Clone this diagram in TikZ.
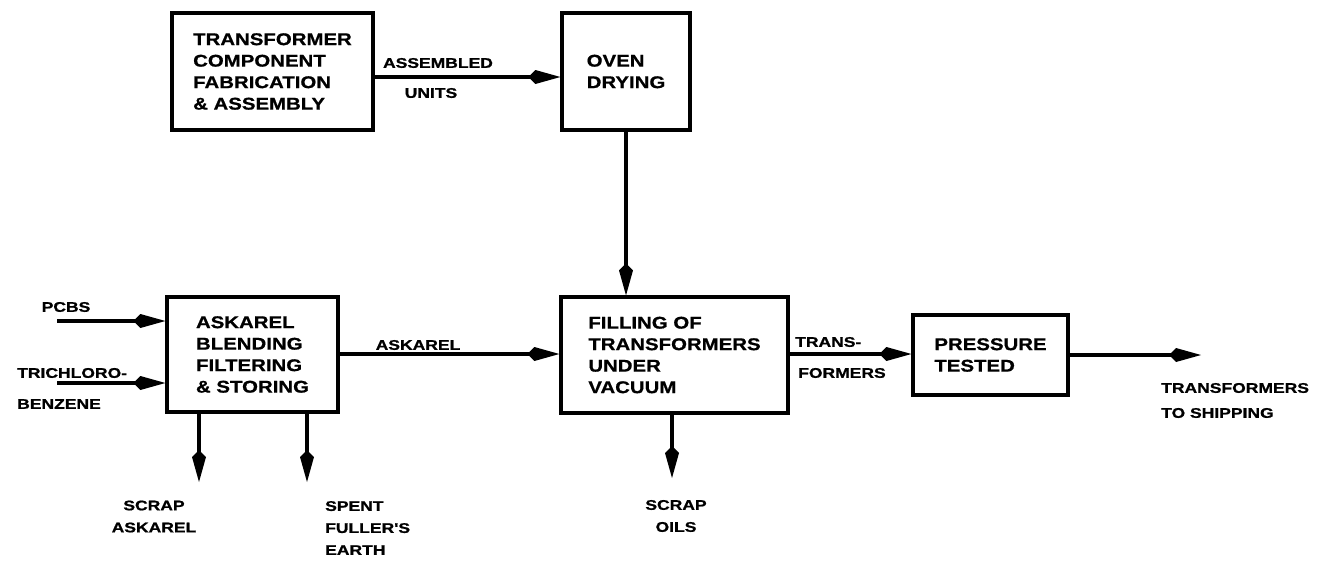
\documentclass[tikz,border=0pt]{standalone}
\usepackage{fontspec}
\usetikzlibrary{arrows.meta}
\newfontfamily\boxlett[FakeStretch=1.2,FakeBold=0.8]{Liberation Sans Bold}
\newfontfamily\lablett[FakeStretch=1.25,FakeBold=1]{Liberation Sans Bold}
\tikzset{
  procbox/.style={draw, line width=3.2pt, inner sep=0pt, align=left,
    font=\boxlett\fontsize{17}{21.5}\selectfont},
  lab/.style={inner sep=0pt, font=\lablett\fontsize{14}{22}\selectfont},
  flow/.style={line width=3.2pt, -{Kite[length=32pt,width=14pt,inset=7pt]}}
}
\begin{document}
\begin{tikzpicture}[x=1pt,y=-1pt]
\useasboundingbox (0,0) rectangle (1322,565);
% boxes
\node[procbox, minimum width=201pt, minimum height=117pt] (fab) at (272.5,71.5)
  {TRANSFORMER\\COMPONENT\\FABRICATION\\\&\ ASSEMBLY};
\node[procbox, minimum width=128pt, minimum height=117pt] (oven) at (626,71.5)
  {OVEN\\DRYING};
\node[procbox, minimum width=171pt, minimum height=115pt] (ask) at (252.5,354.5)
  {ASKAREL\\BLENDING\\FILTERING\\\&\ STORING};
\node[procbox, minimum width=227pt, minimum height=116pt] (fill) at (674.5,355)
  {FILLING OF\\TRANSFORMERS\\UNDER\\VACUUM};
\node[procbox, minimum width=155pt, minimum height=80pt] (press) at (990.5,355)
  {PRESSURE\\TESTED};
% free ends
\coordinate (pcbsin) at (57,321);
\coordinate (tcbin) at (57,383);
\coordinate (ship) at (1201,355);
\coordinate (scrapask) at (199,482);
\coordinate (fuller) at (307,482);
\coordinate (scrapoil) at (672,478);
% connectors
\draw[flow] (fab.east |- 0,77) -- (oven.west |- 0,77);
\draw[flow] (oven.south) -- (oven.south |- fill.north);
\draw[flow] (pcbsin) -- (ask.west |- pcbsin);
\draw[flow] (tcbin) -- (ask.west |- tcbin);
\draw[flow] (ask.east |- 0,354) -- (fill.west |- 0,354);
\draw[flow] (fill.east |- 0,354) -- (press.west |- 0,354);
\draw[flow] (press.east) -- (ship);
\draw[flow] (ask.south -| scrapask) -- (scrapask);
\draw[flow] (ask.south -| fuller) -- (fuller);
\draw[flow] (fill.south -| scrapoil) -- (scrapoil);
% labels
\node[lab] (lassem) at (438,63) {ASSEMBLED};
\node[lab] (lunits) at (431,93) {UNITS};
\node[lab] (lpcbs) at (66,307) {PCBS};
\node[lab, anchor=west] (ltcb1) at (17,373) {TRICHLORO-};
\node[lab, anchor=west] (ltcb2) at (17,404) {BENZENE};
\node[lab] (lask) at (418,345) {ASKAREL};
\node[lab, anchor=west] (ltr1) at (795,342) {TRANS-};
\node[lab, anchor=west] (ltr2) at (798,373) {FORMERS};
\node[lab, anchor=west, align=left, font=\lablett\fontsize{14}{25}\selectfont] (lship) at (1161,400.5) {TRANSFORMERS\\TO SHIPPING};
\node[lab, align=center] (lscrap) at (154,516.5) {SCRAP\\ASKAREL};
\node[lab, align=left, anchor=west] (lspent) at (325,528) {SPENT\\FULLER'S\\EARTH};
\node[lab, align=center] (loils) at (676,516) {SCRAP\\OILS};
\end{tikzpicture}
\end{document}
